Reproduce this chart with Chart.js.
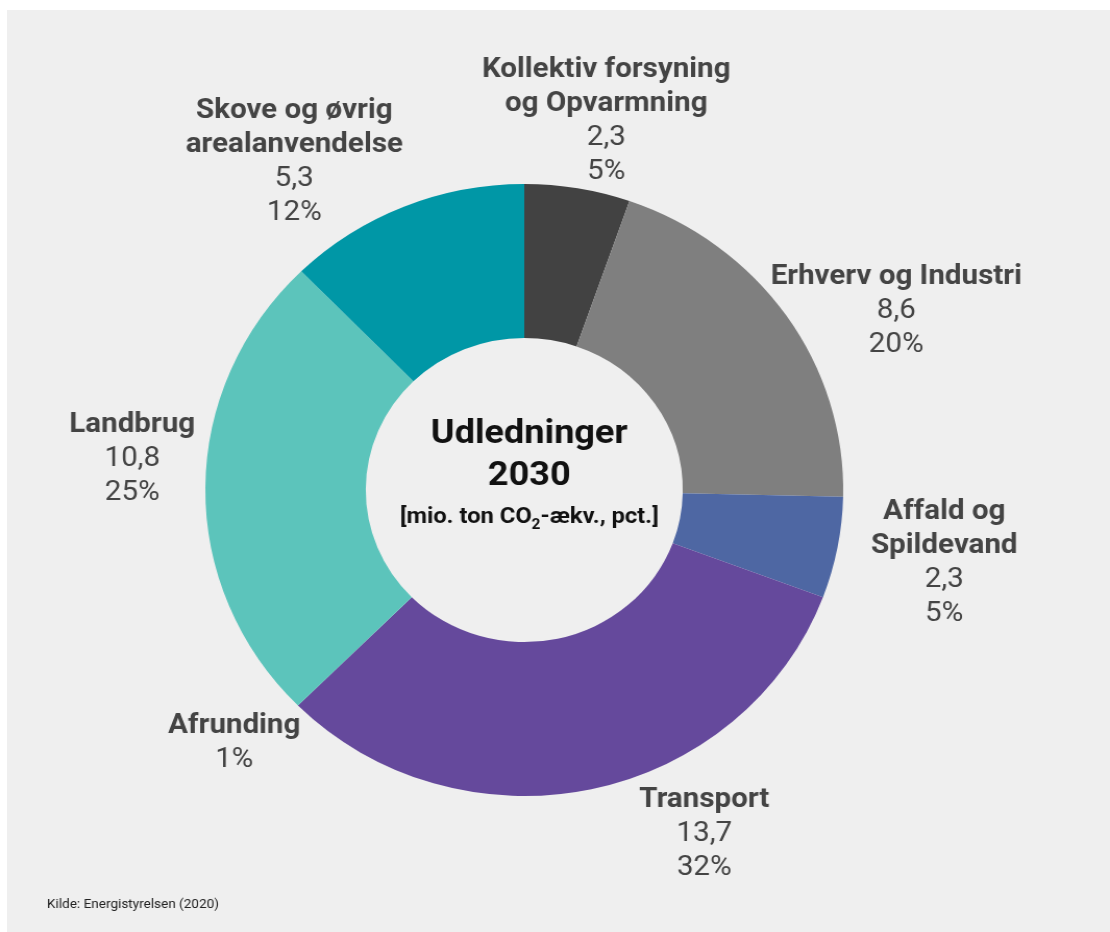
<!DOCTYPE html>
<html>
<head>
<meta charset="utf-8">
<script src="https://cdn.jsdelivr.net/npm/chart.js@4"></script>
<style>
  body { margin: 0; background: #ffffff; }
  #panel { position: absolute; left: 7px; top: 10px; width: 1103px; height: 922px; background: #efefef; }
  /* the original is slightly wide, so the 1065px canvas is stretched to 1110px */
  #wrap { position: absolute; left: 0; top: 0; transform-origin: 0 0; transform: scaleX(1.04225); }
</style>
</head>
<body>
<div id="panel"></div>
<div id="wrap"><canvas id="chart" width="1065" height="932"></canvas></div>
<script>
// data (mio. ton CO2-aekv.), clockwise from top
const categories = ["Kollektiv forsyning|og Opvarmning", "Erhverv og Industri", "Affald og|Spildevand", "Transport", "Afrunding", "Landbrug", "Skove og øvrig|arealanvendelse"];
const values = [2.3, 8.6, 2.3, 13.7, 0, 10.8, 5.3];
const percents = [5, 20, 5, 32, 1, 25, 12];
const colors = ["#424242", "#7f7f7f", "#4e67a3", "#65499c", "#65499c", "#5cc4bb", "#0097a6"];

const STRETCH = 1110 / 1065;
// label anchors relative to the donut centre in page px (x centre, first baseline)
const labelOffsets = [[82, -413], [372, -206], [420, 29], [180, 317], [-290, 243], [-392, -58], [-230, -372]];

const FONT = "Roboto, 'Open Sans', sans-serif";
const TX = 1.05; // extra horizontal widening of the text

function wideText(ctx, txt, x, y, k) {
    ctx.save();
    ctx.translate(x, y);
    ctx.scale(k, 1);
    ctx.fillText(txt, 0, 0);
    ctx.restore();
}

const labelPlugin = {
    id: 'labelPlugin',
    afterDraw(chart) {
        const ctx = chart.ctx;
        const area = chart.chartArea;
        const cx = (area.left + area.right) / 2;
        const cy = (area.top + area.bottom) / 2;
        ctx.save();
        ctx.textAlign = 'center';
        ctx.textBaseline = 'alphabetic';
        const lh = 34;

        categories.forEach((cat, i) => {
            const x = cx + labelOffsets[i][0] / STRETCH;
            let y = cy + labelOffsets[i][1];
            ctx.fillStyle = '#444444';
            ctx.font = 'bold 27px ' + FONT;
            cat.split('|').forEach(line => {
                wideText(ctx, line, x, y, TX);
                y += lh;
            });
            ctx.font = '27px ' + FONT;
            if (values[i] > 0) {
                wideText(ctx, values[i].toFixed(1).replace('.', ','), x, y, TX);
                y += lh;
            }
            wideText(ctx, percents[i] + '%', x, y, TX);
        });

        // centre title, sits a few px right of the hole centre
        const tx = cx + 5 / STRETCH;
        ctx.fillStyle = '#111111';
        ctx.font = 'bold 33px ' + FONT;
        wideText(ctx, 'Udledninger', tx, cy - 47, TX);
        wideText(ctx, '2030', tx, cy - 5, TX);

        // subtitle with subscript 2
        const a = '[mio. ton CO', b = '2', c = '-ækv., pct.]';
        ctx.font = 'bold 21.7px ' + FONT;
        const wa = ctx.measureText(a).width * TX, wc = ctx.measureText(c).width * TX;
        ctx.font = 'bold 14px ' + FONT;
        const wb = ctx.measureText(b).width * TX;
        const sx = tx - (wa + wb + wc) / 2;
        const sy = cy + 33;
        ctx.textAlign = 'left';
        ctx.font = 'bold 21.7px ' + FONT;
        wideText(ctx, a, sx, sy, TX);
        ctx.font = 'bold 14px ' + FONT;
        wideText(ctx, b, sx + wa, sy + 6, TX);
        ctx.font = 'bold 21.7px ' + FONT;
        wideText(ctx, c, sx + wa + wb, sy, TX);

        // source
        ctx.fillStyle = '#222222';
        ctx.font = '13px ' + FONT;
        ctx.fillText('Kilde: Energistyrelsen (2020)', 47 / STRETCH, 908);
        ctx.restore();
    }
};

const chart = new Chart(document.getElementById('chart'), {
    type: 'doughnut',
    data: {
        labels: categories,
        datasets: [{
            data: values,
            backgroundColor: colors,
            borderWidth: 0
        }]
    },
    options: {
        responsive: false,
        animation: false,
        cutout: '49.7%',
        layout: { padding: { left: 197, right: 256, top: 184, bottom: 136 } },
        plugins: {
            legend: { display: false },
            tooltip: { enabled: false }
        }
    },
    plugins: [labelPlugin]
});
</script>
</body>
</html>
